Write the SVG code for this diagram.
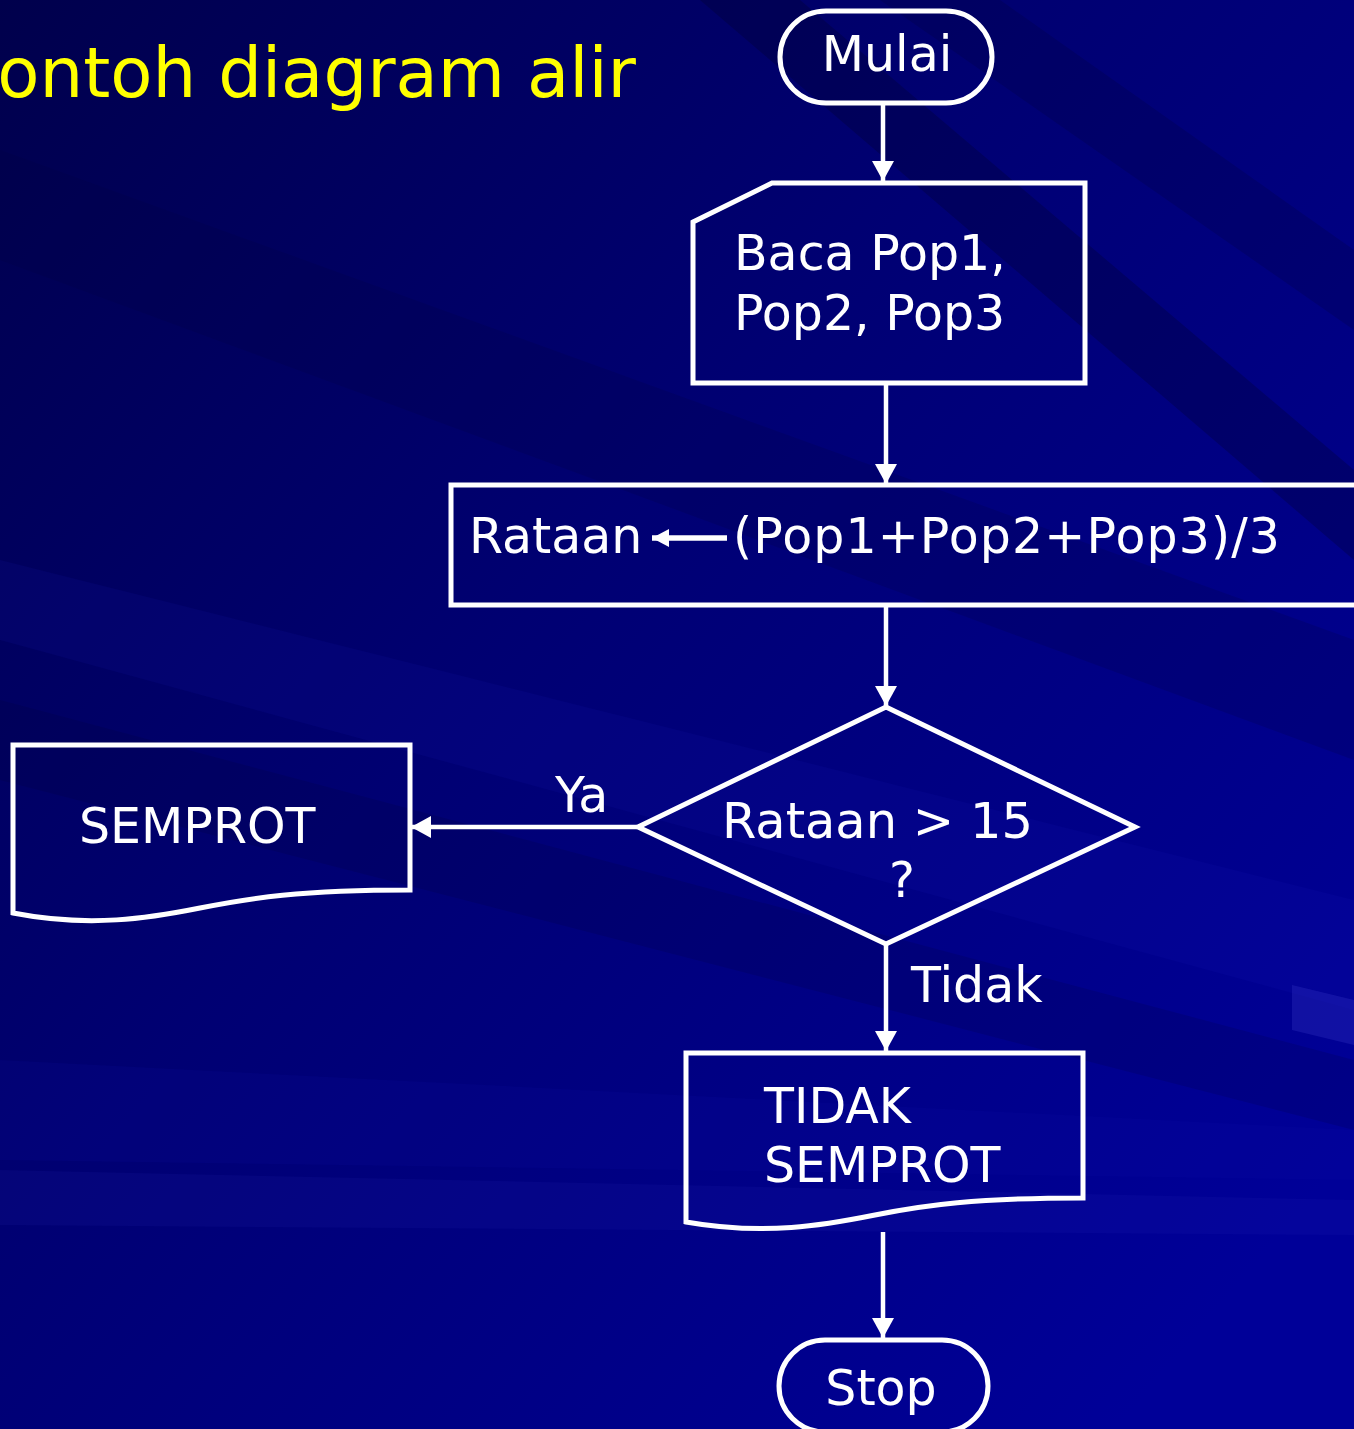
<svg xmlns="http://www.w3.org/2000/svg" width="1354" height="1429" viewBox="0 0 1354 1429">
  <defs>
    <linearGradient id="bg" gradientUnits="userSpaceOnUse" x1="0" y1="0" x2="1354" y2="1150">
      <stop offset="0" stop-color="#00004c"/>
      <stop offset="0.45" stop-color="#000072"/>
      <stop offset="1" stop-color="#000098"/>
    </linearGradient>
    <marker id="ah" markerWidth="24" markerHeight="24" refX="20" refY="12" orient="auto" markerUnits="userSpaceOnUse">
      <path d="M0,1 L20,12 L0,23 Z" fill="#ffffff"/>
    </marker>
    <marker id="ahs" markerWidth="22" markerHeight="22" refX="17" refY="11" orient="auto" markerUnits="userSpaceOnUse">
      <path d="M0,2 L17,11 L0,20 Z" fill="#ffffff"/>
    </marker>
    <style>
      .shape { fill: none; stroke: #ffffff; stroke-width: 5; stroke-linejoin: miter; }
      .conn { fill: none; stroke: #ffffff; stroke-width: 4.5; }
      .lbl { font-family: "DejaVu Sans", "Verdana", sans-serif; font-size: 49px; fill: #ffffff; }
      .title { font-family: "DejaVu Sans", "Verdana", sans-serif; font-size: 69px; fill: #ffff00; }
    </style>
  </defs>

  <!-- background with diagonal streaks -->
  <g id="background">
    <rect x="0" y="0" width="1354" height="1429" fill="url(#bg)"/>
    <polygon points="700,0 800,0 1354,470 1354,560" fill="#000020" opacity="0.25"/>
    <polygon points="880,0 1000,0 1354,250 1354,330" fill="#000030" opacity="0.2"/>
    <polygon points="0,150 0,260 1354,760 1354,640" fill="#000040" opacity="0.2"/>
    <polygon points="0,560 0,640 1354,1010 1354,900" fill="#2020c0" opacity="0.1"/>
    <polygon points="0,700 0,780 1354,1130 1354,1060" fill="#000030" opacity="0.15"/>
    <polygon points="0,1060 0,1160 1354,1180 1354,1130" fill="#1010b0" opacity="0.12"/>
    <polygon points="0,1170 0,1225 1354,1235 1354,1200" fill="#3030c8" opacity="0.1"/>
    <polygon points="1292,985 1354,1000 1354,1045 1292,1030" fill="#3030c0" opacity="0.35"/>
  </g>

  <text class="title" x="636" y="97" text-anchor="end">ontoh diagram alir</text>

  <!-- connectors -->
  <g id="connectors">
    <path class="conn" d="M883,103 V181" marker-end="url(#ah)"/>
    <path class="conn" d="M886,381 V484" marker-end="url(#ah)"/>
    <path class="conn" d="M886,603 V706" marker-end="url(#ah)"/>
    <path class="conn" d="M637,827 H411" marker-end="url(#ah)"/>
    <path class="conn" d="M886,945 V1051" marker-end="url(#ah)"/>
    <path class="conn" d="M883,1232 V1338" marker-end="url(#ah)"/>
    <text class="lbl" x="555" y="812">Ya</text>
    <text class="lbl" x="911" y="1002">Tidak</text>
  </g>

  <g id="start">
    <rect class="shape" x="780" y="11" width="212" height="92" rx="46" ry="46"/>
    <text class="lbl" x="887" y="71" text-anchor="middle">Mulai</text>
  </g>

  <g id="input">
    <path class="shape" d="M693,222 L772,183 H1085 V383 H693 Z"/>
    <text class="lbl" x="734" y="270">Baca Pop1,</text>
    <text class="lbl" x="734" y="330">Pop2, Pop3</text>
  </g>

  <g id="process">
    <rect class="shape" x="451" y="485" width="930" height="120"/>
    <text class="lbl" x="469" y="553">Rataan</text>
    <path d="M727,538 H652" stroke="#ffffff" stroke-width="5.5" fill="none" marker-end="url(#ahs)"/>
    <text class="lbl" x="733" y="553" textLength="547" lengthAdjust="spacing">(Pop1+Pop2+Pop3)/3</text>
  </g>

  <g id="decision">
    <path class="shape" d="M886,707 L1135,827 L886,944 L638,827 Z"/>
    <text class="lbl" x="722" y="838" textLength="311" lengthAdjust="spacingAndGlyphs">Rataan &gt; 15</text>
    <text class="lbl" x="902" y="897" text-anchor="middle">?</text>
  </g>

  <g id="spray">
    <path class="shape" d="M13,745 H410 V890 C300,890 250,898 200,908 C150,918 90,928 13,913 Z"/>
    <text class="lbl" x="79" y="843">SEMPROT</text>
  </g>

  <g id="nospray">
    <path class="shape" d="M686,1053 H1083 V1198 C975,1198 925,1205 875,1215 C825,1225 765,1236 686,1222 Z"/>
    <text class="lbl" x="764" y="1123">TIDAK</text>
    <text class="lbl" x="764" y="1182">SEMPROT</text>
  </g>

  <g id="stop">
    <rect class="shape" x="779" y="1340" width="209" height="92" rx="46" ry="46"/>
    <text class="lbl" x="881" y="1405" text-anchor="middle">Stop</text>
  </g>
</svg>
